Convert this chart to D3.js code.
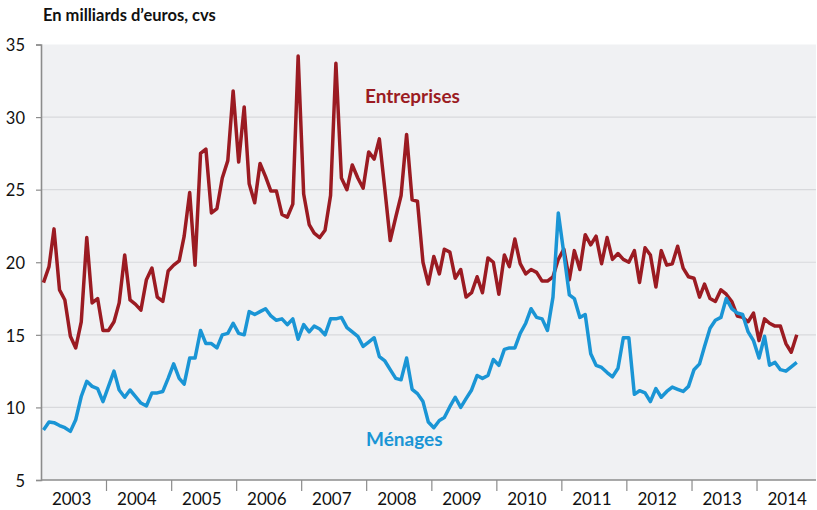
<!DOCTYPE html>
<html>
<head>
<meta charset="utf-8">
<script src="https://cdn.jsdelivr.net/npm/d3@7"></script>
<style>
  html, body { margin: 0; padding: 0; background: #ffffff; }
  svg { display: block; font-family: Lato, "Open Sans", sans-serif; }
</style>
</head>
<body>
<svg id="chart" width="817" height="510"></svg>
<script>
// ---- Data (monthly, Jan 2003 – Aug 2014), billions of euros, seasonally adjusted ----
const startYear = 2003;
const startMonth = 0;

const entreprises = [
  18.6, 19.7, 22.3, 18.1, 17.4, 14.9, 14.1, 15.9, 21.7, 17.2, 17.5, 15.3,
  15.3, 15.9, 17.2, 20.5, 17.4, 17.1, 16.7, 18.8, 19.6, 17.6, 17.3, 19.4,
  19.8, 20.1, 21.8, 24.8, 19.8, 27.5, 27.8, 23.4, 23.7, 25.8, 27.0, 31.8,
  26.9, 30.7, 25.4, 24.1, 26.8, 25.9, 24.9, 24.9, 23.3, 23.1, 24.0, 34.2,
  24.7, 22.6, 22.0, 21.7, 22.2, 24.6, 33.7, 25.8, 25.0, 26.7, 25.8, 25.1,
  27.6, 27.1, 28.5, 25.0, 21.5, 23.1, 24.6, 28.8, 24.3, 24.2, 20.0, 18.5,
  20.4, 19.2, 20.9, 20.7, 18.9, 19.5, 17.6, 17.9, 19.0, 17.9, 20.3, 20.0,
  17.8, 20.5, 19.7, 21.6, 19.9, 19.2, 19.5, 19.3, 18.7, 18.7, 19.0, 20.2,
  20.9, 18.8, 20.8, 19.5, 21.9, 21.2, 21.8, 19.9, 21.7, 20.2, 20.6, 20.2,
  20.0, 20.8, 18.6, 21.0, 20.5, 18.3, 20.8, 19.8, 19.9, 21.1, 19.6, 19.0,
  18.9, 17.6, 18.5, 17.5, 17.3, 18.1, 17.8, 17.3, 16.3, 16.2, 15.9, 16.5,
  14.6, 16.1, 15.8, 15.6, 15.6, 14.4, 13.8, 15.0
];

const menages = [
  8.45, 9.0, 8.95, 8.75, 8.6, 8.35, 9.15, 10.75, 11.8, 11.45, 11.3, 10.4,
  11.45, 12.5, 11.2, 10.7, 11.2, 10.75, 10.3, 10.1, 11.0, 11.0, 11.1, 12.0,
  13.0, 12.0, 11.6, 13.4, 13.4, 15.3, 14.4, 14.4, 14.1, 15.0, 15.1, 15.8,
  15.1, 15.0, 16.6, 16.4, 16.6, 16.8, 16.3, 16.0, 16.1, 15.7, 16.1, 14.7,
  15.7, 15.2, 15.6, 15.4, 15.0, 16.1, 16.1, 16.2, 15.5, 15.2, 14.9, 14.2,
  14.5, 14.8, 13.5, 13.2, 12.6, 12.0, 11.9, 13.4, 11.25, 10.95, 10.4, 9.0,
  8.6, 9.1, 9.3, 10.05, 10.7, 10.0, 10.6, 11.2, 12.2, 12.0, 12.2, 13.3,
  12.9, 14.0, 14.1, 14.1, 15.1, 15.8, 16.8, 16.2, 16.1, 15.3, 17.6, 23.4,
  20.6, 17.75, 17.5, 16.2, 16.4, 13.7, 12.9, 12.75, 12.4, 12.1, 12.7, 14.8,
  14.8, 10.9, 11.15, 11.0, 10.4, 11.3, 10.7, 11.1, 11.4, 11.25, 11.1, 11.45,
  12.6, 13.0, 14.2, 15.45, 16.0, 16.2, 17.5, 16.8, 16.5, 16.4, 15.2, 14.6,
  13.4, 14.9, 12.9, 13.1, 12.6, 12.5, 12.8, 13.1
];

const yTicks = [5, 10, 15, 20, 25, 30, 35];
const yearLabels = ["2003", "2004", "2005", "2006", "2007", "2008", "2009", "2010", "2011", "2012", "2013", "2014"];
const seriesNames = ["Entreprises", "Ménages"];
const titleText = "En milliards d\u2019euros, cvs";

// ---- Layout ----
const svg = d3.select("#chart");
const plotLeft = 41, plotRight = 816, plotTop = 44.5, plotBottom = 480;
const colors = { "Entreprises": "#9b1b22", "Ménages": "#1a95d5" };

const dates = entreprises.map((_, i) => new Date(startYear, startMonth + i, 15));

const x = d3.scaleTime()
  .domain([new Date(2003, 0, 1), new Date(2014, 11, 1)])
  .range([plotLeft, plotRight]);
const y = d3.scaleLinear().domain([5, 35]).range([plotBottom, plotTop]);

// plot background
svg.append("rect")
  .attr("x", plotLeft).attr("y", plotTop)
  .attr("width", plotRight - plotLeft).attr("height", plotBottom - plotTop)
  .attr("fill", "#f0f1f3");

// gridlines
svg.append("g")
  .selectAll("line")
  .data(yTicks.filter(d => d > 5 && d < 35))
  .join("line")
  .attr("x1", plotLeft).attr("x2", plotRight)
  .attr("y1", d => y(d)).attr("y2", d => y(d))
  .attr("stroke", "#d8d9dc").attr("stroke-width", 1.2);

// y axis
const yAxis = svg.append("g")
  .attr("transform", `translate(${plotLeft},0)`)
  .call(d3.axisLeft(y).tickValues(yTicks).tickSize(5).tickPadding(11).tickFormat(d3.format("d")));
yAxis.select(".domain").attr("stroke", "#8c8c8c").attr("stroke-width", 1.6);
yAxis.selectAll(".tick line").attr("stroke", "#8c8c8c").attr("stroke-width", 1.2);
yAxis.selectAll(".tick text")
  .attr("font-family", "Lato, sans-serif").attr("font-size", 16.5).attr("fill", "#111")
  .attr("dy", "0.38em");

// x axis: ticks at year boundaries
const yearStarts = d3.range(2004, 2015).map(yy => new Date(yy, 0, 1));
const xAxis = svg.append("g")
  .attr("transform", `translate(0,${plotBottom})`)
  .call(d3.axisBottom(x).tickValues(yearStarts).tickSize(11).tickFormat(""));
xAxis.select(".domain").attr("stroke", "#8c8c8c").attr("stroke-width", 1.6)
  .attr("d", `M${plotLeft},0H${plotRight}`);
xAxis.selectAll(".tick line").attr("stroke", "#8c8c8c").attr("stroke-width", 1.2);

// year labels near mid-year
svg.append("g")
  .selectAll("text")
  .data(yearLabels)
  .join("text")
  .attr("x", d => x(new Date(+d, 5, 22)))
  .attr("y", 505)
  .attr("text-anchor", "middle")
  .attr("font-family", "Lato, sans-serif")
  .attr("font-size", 17)
  .attr("fill", "#111")
  .text(d => d);

// lines
const line = d3.line()
  .x((d, i) => x(dates[i]))
  .y(d => y(d));

svg.append("path")
  .datum(entreprises)
  .attr("fill", "none")
  .attr("stroke", colors["Entreprises"])
  .attr("stroke-width", 3.5)
  .attr("stroke-linejoin", "round")
  .attr("d", line);

svg.append("path")
  .datum(menages)
  .attr("fill", "none")
  .attr("stroke", colors["Ménages"])
  .attr("stroke-width", 3.5)
  .attr("stroke-linejoin", "round")
  .attr("d", line);

// series labels
svg.append("text")
  .attr("x", 365).attr("y", 102.5)
  .attr("font-family", "Lato, sans-serif").attr("font-weight", "bold").attr("font-size", 19)
  .attr("fill", colors["Entreprises"])
  .text(seriesNames[0]);

svg.append("text")
  .attr("x", 366).attr("y", 446)
  .attr("font-family", "Lato, sans-serif").attr("font-weight", "bold").attr("font-size", 19)
  .attr("fill", colors["Ménages"])
  .text(seriesNames[1]);

// title
svg.append("text")
  .attr("x", 43).attr("y", 21)
  .attr("font-family", "Lato, sans-serif").attr("font-weight", "bold").attr("font-size", 16.5)
  .attr("fill", "#111")
  .text(titleText);
</script>
</body>
</html>
